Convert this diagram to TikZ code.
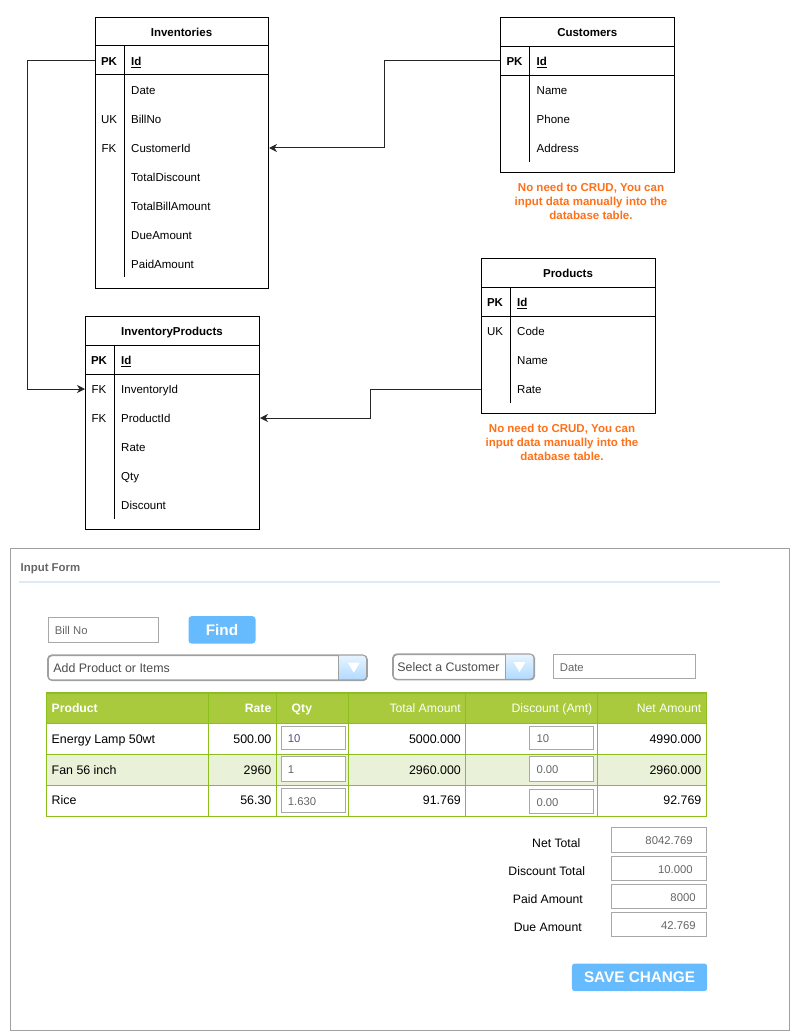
\documentclass[tikz,border=0pt]{standalone}
\usepackage{fontspec}
\setmainfont{Liberation Sans}
\usetikzlibrary{arrows.meta}
\definecolor{hdrgreen}{RGB}{168,202,60}
\definecolor{linegreen}{RGB}{140,190,30}
\definecolor{rowgreen}{RGB}{233,241,216}
\definecolor{notecol}{RGB}{255,112,25}
\definecolor{btnblue}{RGB}{102,187,255}
\definecolor{fieldgray}{RGB}{168,168,168}
\definecolor{formgray}{RGB}{160,160,160}
\definecolor{sepblue}{RGB}{220,235,250}
\definecolor{txtgray}{RGB}{102,102,102}
\tikzset{
  erbox/.style={draw=black, line width=1pt, anchor=north west, inner sep=0pt},
  erline/.style={draw=black, line width=1pt},
  ertitle/.style={font=\fontsize{11.5}{14}\selectfont\bfseries, inner sep=0pt, text height=9.6pt, text depth=0pt},
  erkeyb/.style={font=\fontsize{11.5}{14}\selectfont\bfseries, inner sep=0pt, text height=9.6pt, text depth=0pt},
  erkey/.style={font=\fontsize{11.5}{14}\selectfont, inner sep=0pt, text height=9.6pt, text depth=0pt},
  ertxt/.style={font=\fontsize{11.5}{14}\selectfont, anchor=west, inner sep=0pt, text height=9.6pt, text depth=0pt},
  conn/.style={draw=black!85, line width=1pt},
  arr/.style={-{Stealth[length=8pt,width=8pt,inset=2.5pt]}},
  note/.style={font=\fontsize{11.5}{14.2}\selectfont\bfseries, text=notecol, align=center, inner sep=0pt},
  field/.style={draw=fieldgray, line width=1.1pt, fill=white, anchor=north west, inner sep=0pt},
  fieldtxt/.style={font=\fontsize{11.3}{13}\selectfont, text=txtgray, inner sep=0pt, text height=9pt, text depth=0pt},
  combo/.style={draw=formgray, line width=1.1pt, rounded corners=4pt, anchor=north west, inner sep=0pt},
  btn/.style={fill=btnblue, rounded corners=3pt, anchor=north west, inner sep=0pt, text=white, font=\fontsize{15.3}{18}\selectfont\bfseries},
  celltxt/.style={font=\fontsize{12.4}{15}\selectfont, inner sep=0pt, text height=9.5pt, text depth=0pt},
  hdrtxt/.style={font=\fontsize{12.2}{15}\selectfont, text=white, inner sep=0pt, text height=10pt, text depth=0pt},
  sumlbl/.style={font=\fontsize{12.2}{15}\selectfont, inner sep=0pt, text height=9.5pt, text depth=0pt},
}
\begin{document}
\begin{tikzpicture}[x=1pt,y=-1pt]
\useasboundingbox (0,0) rectangle (805,1035);

% ================= Inventories =================
\node[erbox, minimum width=173, minimum height=271] (inv) at (95,17) {};
\draw[erline] (95,46) -- (268,46);
\draw[erline] (95,75) -- (268,75);
\draw[erline] (124,46) -- (124,277);
\node[ertitle] (inv-title) at (181.5,32) {Inventories};
\node[erkeyb] (inv-pk) at (109,61) {PK};
\node[ertxt] (inv-id) at (131,61) {\bfseries\underline{Id}};
\node[ertxt] (inv-date) at (131,90) {Date};
\node[erkey] (inv-uk) at (109,119) {UK};
\node[ertxt] (inv-bill) at (131,119) {BillNo};
\node[erkey] (inv-fk) at (109,148) {FK};
\node[ertxt] (inv-cust) at (131,148) {CustomerId};
\node[ertxt] (inv-td) at (131,177) {TotalDiscount};
\node[ertxt] (inv-tba) at (131,206) {TotalBillAmount};
\node[ertxt] (inv-due) at (131,235) {DueAmount};
\node[ertxt] (inv-paid) at (131,264) {PaidAmount};

% ================= Customers =================
\node[erbox, minimum width=174, minimum height=154.5] (cust) at (500.3,17.3) {};
\draw[erline] (500.3,46.3) -- (674.3,46.3);
\draw[erline] (500.3,75.3) -- (674.3,75.3);
\draw[erline] (529.3,46.3) -- (529.3,161.7);
\node[ertitle] (cust-title) at (587.3,32) {Customers};
\node[erkeyb] (cust-pk) at (514.5,61) {PK};
\node[ertxt] (cust-id) at (536.5,61) {\bfseries\underline{Id}};
\node[ertxt] (cust-name) at (536.5,90) {Name};
\node[ertxt] (cust-phone) at (536.5,119) {Phone};
\node[ertxt] (cust-addr) at (536.5,148) {Address};
\node[note] (cust-note) at (591,201.5) {No need to CRUD, You can\\input data manually into the\\database table.};

% ================= Products =================
\node[erbox, minimum width=174, minimum height=154.7] (prod) at (481,258.3) {};
\draw[erline] (481,287.3) -- (655,287.3);
\draw[erline] (481,316.3) -- (655,316.3);
\draw[erline] (510,287.3) -- (510,403);
\node[ertitle] (prod-title) at (568,273) {Products};
\node[erkeyb] (prod-pk) at (495,302) {PK};
\node[ertxt] (prod-id) at (517,302) {\bfseries\underline{Id}};
\node[erkey] (prod-uk) at (495,331) {UK};
\node[ertxt] (prod-code) at (517,331) {Code};
\node[ertxt] (prod-name) at (517,360) {Name};
\node[ertxt] (prod-rate) at (517,389) {Rate};
\node[note] (prod-note) at (562,442.5) {No need to CRUD, You can\\input data manually into the\\database table.};

% ================= InventoryProducts =================
\node[erbox, minimum width=174, minimum height=213] (ip) at (85,316) {};
\draw[erline] (85,345.3) -- (259,345.3);
\draw[erline] (85,374.3) -- (259,374.3);
\draw[erline] (114,345.3) -- (114,519);
\node[ertitle] (ip-title) at (172,331) {InventoryProducts};
\node[erkeyb] (ip-pk) at (99,360) {PK};
\node[ertxt] (ip-id) at (121,360) {\bfseries\underline{Id}};
\node[erkey] (ip-fk1) at (99,389) {FK};
\node[ertxt] (ip-invid) at (121,389) {InventoryId};
\node[erkey] (ip-fk2) at (99,418) {FK};
\node[ertxt] (ip-prod) at (121,418) {ProductId};
\node[ertxt] (ip-rate) at (121,447) {Rate};
\node[ertxt] (ip-qty) at (121,476) {Qty};
\node[ertxt] (ip-disc) at (121,505) {Discount};

% ================= Connectors =================
\coordinate (bendA) at (27,0);
\coordinate (bendB) at (384,0);
\coordinate (bendC) at (370,0);
\draw[conn,arr] (inv.west |- inv-id) -| (bendA |- ip-invid) -- (ip.west |- ip-invid);
\draw[conn,arr] (cust.west |- cust-id) -| (bendB |- inv-cust) -- (inv.east |- inv-cust);
\draw[conn,arr] (prod.west |- prod-rate) -| (bendC |- ip-prod) -- (ip.east |- ip-prod);

% ================= Form =================
\node[draw=formgray, line width=1pt, anchor=north west, inner sep=0pt, minimum width=779, minimum height=482] (form) at (9.5,547.5) {};
\node[anchor=west, inner sep=0pt, font=\fontsize{11.4}{13}\selectfont\bfseries, text=txtgray, text height=9.6pt, text depth=0pt] (formtitle) at (20.5,567) {Input Form};
\draw[sepblue, line width=2pt] (19,582) -- (720,582);

% Bill No + Find
\node[field, minimum width=110.6, minimum height=24.4] (bill) at (47.7,617.3) {};
\node[fieldtxt, anchor=west] (bill-t) at ([xshift=7pt]bill.west) {Bill No};
\node[btn, minimum width=67, minimum height=27.3] (find) at (188.3,616) {Find};

% Add product combo
\node[combo, minimum width=319, minimum height=25] (addp) at (47.7,655) {};
\begin{scope}
  \clip[rounded corners=4pt] (47.7,655) rectangle (366.7,680);
  \shade[top color={rgb,255:red,232;green,244;blue,255}, bottom color={rgb,255:red,176;green,218;blue,255}] (338.3,655) rectangle (366.7,680);
\end{scope}
\draw[formgray, line width=1.1pt, rounded corners=4pt] (47.7,655) rectangle (366.7,680);
\draw[formgray, line width=0.8pt] (338.3,655) -- (338.3,680);
\fill[white] (347.8,662.7) -- (359.8,662.7) -- (353.8,672.7) -- cycle;
\node[fieldtxt, anchor=west, text=black!70, font=\fontsize{12.4}{14}\selectfont] (addp-t) at ([xshift=5.5pt]addp.west) {Add Product or Items};

% Select customer combo
\node[combo, minimum width=141.3, minimum height=25.3] (selc) at (392.7,654) {};
\begin{scope}
  \clip[rounded corners=4pt] (392.7,654) rectangle (534,679.3);
  \shade[top color={rgb,255:red,232;green,244;blue,255}, bottom color={rgb,255:red,176;green,218;blue,255}] (505,654) rectangle (534,679.3);
\end{scope}
\draw[formgray, line width=1.1pt, rounded corners=4pt] (392.7,654) rectangle (534,679.3);
\draw[formgray, line width=0.8pt] (505,654) -- (505,679.3);
\fill[white] (513.5,662) -- (525.5,662) -- (519.5,672) -- cycle;
\node[fieldtxt, anchor=west, text=black!70, font=\fontsize{12.4}{14}\selectfont] (selc-t) at ([xshift=4.5pt]selc.west) {Select a Customer};

% Date
\node[field, minimum width=142.3, minimum height=24] (date) at (552.7,654.3) {};
\node[fieldtxt, anchor=west] (date-t) at ([xshift=7pt]date.west) {Date};

% ================= Table =================
\fill[hdrgreen] (46,692.3) rectangle (706,723.3);
\fill[rowgreen] (46,754) rectangle (706,785);
\foreach \yy in {723.3,754,785}{\draw[linegreen, line width=1pt] (46,\yy) -- (706,\yy);}
\foreach \xx in {208.3,276.7,348.3,465,597.3}{\draw[linegreen, line width=1pt] (\xx,692.3) -- (\xx,816);}
\node[draw=linegreen, line width=1.2pt, anchor=north west, inner sep=0pt, minimum width=660, minimum height=123.7] (tbl) at (46,692.3) {};
% header
\node[hdrtxt, anchor=west, font=\fontsize{12.2}{15}\selectfont\bfseries] (h-prod) at (51.5,707.5) {Product};
\node[hdrtxt, anchor=east, font=\fontsize{12.2}{15}\selectfont\bfseries] (h-rate) at (271.5,707.5) {Rate};
\node[hdrtxt, anchor=west, font=\fontsize{12.2}{15}\selectfont\bfseries] (h-qty) at (291.5,707.5) {Qty};
\node[hdrtxt, anchor=east] (h-tot) at (461,707.5) {Total Amount};
\node[hdrtxt, anchor=east] (h-disc) at (592.5,707.5) {Discount (Amt)};
\node[hdrtxt, anchor=east] (h-net) at (701.5,707.5) {Net Amount};
% rows
\node[celltxt, anchor=west] (r1-p) at (51.5,739) {Energy Lamp 50wt};
\node[celltxt, anchor=east] (r1-r) at (271.5,739) {500.00};
\node[field, minimum width=64.3, minimum height=23.6] (r1-q) at (280.7,725.7) {};
\node[fieldtxt, anchor=west, text=txtgray!80!blue] (r1-qt) at ([xshift=7pt]r1-q.west) {10};
\node[celltxt, anchor=east] (r1-t) at (461,739) {5000.000};
\node[field, minimum width=63.4, minimum height=23.6] (r1-d) at (529.3,725.7) {};
\node[fieldtxt, anchor=west] (r1-dt) at ([xshift=7pt]r1-d.west) {10};
\node[celltxt, anchor=east] (r1-n) at (701.5,739) {4990.000};

\node[celltxt, anchor=west] (r2-p) at (51.5,769.5) {Fan 56 inch};
\node[celltxt, anchor=east] (r2-r) at (271.5,769.5) {2960};
\node[field, minimum width=64.3, minimum height=24.4] (r2-q) at (280.7,756.3) {};
\node[fieldtxt, anchor=west] (r2-qt) at ([xshift=7pt]r2-q.west) {1};
\node[celltxt, anchor=east] (r2-t) at (461,769.5) {2960.000};
\node[field, minimum width=63.4, minimum height=24.4] (r2-d) at (529.3,756.3) {};
\node[fieldtxt, anchor=west] (r2-dt) at ([xshift=7pt]r2-d.west) {0.00};
\node[celltxt, anchor=east] (r2-n) at (701.5,769.5) {2960.000};

\node[celltxt, anchor=west] (r3-p) at (51.5,800) {Rice};
\node[celltxt, anchor=east] (r3-r) at (271.5,800) {56.30};
\node[field, minimum width=64.3, minimum height=24] (r3-q) at (280.7,788.3) {};
\node[fieldtxt, anchor=west] (r3-qt) at ([xshift=7pt]r3-q.west) {1.630};
\node[celltxt, anchor=east] (r3-t) at (461,800) {91.769};
\node[field, minimum width=63.4, minimum height=24.3] (r3-d) at (529.3,789) {};
\node[fieldtxt, anchor=west] (r3-dt) at ([xshift=7pt]r3-d.west) {0.00};
\node[celltxt, anchor=east] (r3-n) at (701.5,800) {92.769};

% ================= Summary =================
\node[sumlbl] (l-net) at (556.3,842.7) {Net Total};
\node[field, minimum width=95, minimum height=25] (s-net) at (610.7,827.3) {};
\node[fieldtxt, anchor=east] (s-net-t) at ([xshift=-14pt]s-net.east) {8042.769};

\node[sumlbl] (l-disc) at (546.8,871) {Discount Total};
\node[field, minimum width=95, minimum height=24.6] (s-disc) at (610.7,855.7) {};
\node[fieldtxt, anchor=east] (s-disc-t) at ([xshift=-14pt]s-disc.east) {10.000};

\node[sumlbl] (l-paid) at (547.8,899) {Paid Amount};
\node[field, minimum width=95, minimum height=24.6] (s-paid) at (610.7,883.7) {};
\node[fieldtxt, anchor=east] (s-paid-t) at ([xshift=-11pt]s-paid.east) {8000};

\node[sumlbl] (l-due) at (547.8,927) {Due Amount};
\node[field, minimum width=95, minimum height=24.6] (s-due) at (610.7,911.7) {};
\node[fieldtxt, anchor=east] (s-due-t) at ([xshift=-11pt]s-due.east) {42.769};

\node[btn, minimum width=135.3, minimum height=27.7] (save) at (571.7,963.3) {SAVE CHANGE};
\end{tikzpicture}
\end{document}
